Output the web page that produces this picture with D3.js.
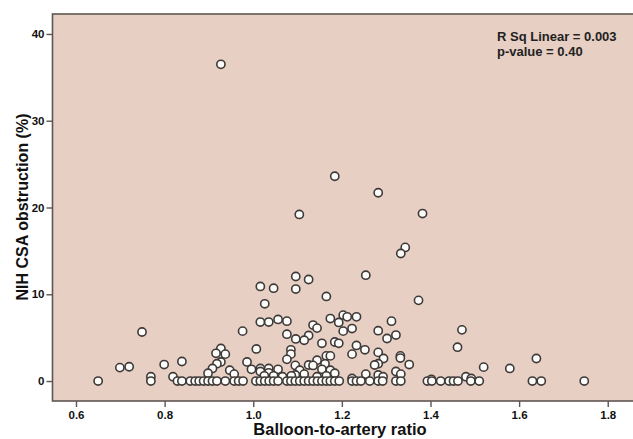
<!DOCTYPE html>
<html>
<head>
<meta charset="utf-8">
<script src="https://cdn.jsdelivr.net/npm/d3@7"></script>
<style>
  html, body { margin: 0; padding: 0; background: #ffffff; }
  svg { display: block; }
</style>
</head>
<body>
<svg id="chart" width="633" height="439"></svg>
<script>
// ---- data ----
const ratio = [
  0.927, 1.184, 1.282, 1.104, 1.382, 1.343, 1.333, 1.254, 1.096, 1.125,
  1.016, 1.046, 1.096, 1.165, 1.373, 1.026, 1.203, 1.212, 1.233, 1.174,
  1.056, 1.076, 1.016, 1.035, 1.312, 1.135, 1.144, 1.193, 1.223, 0.749,
  0.976, 1.282, 1.471, 1.203, 1.076, 1.125, 1.322, 1.096, 1.115, 1.302,
  1.184, 1.193, 1.155, 1.233, 1.461, 1.007, 0.927, 1.252, 1.085, 1.282,
  0.916, 0.937, 1.085, 1.223, 1.332, 1.165, 1.174, 1.639, 1.076, 1.332,
  1.294, 0.839, 1.144, 0.927, 0.986, 0.918, 1.162, 1.282, 1.274, 0.799,
  1.352, 1.095, 1.125, 1.135, 0.699, 0.720, 1.520, 1.579, 0.908, 1.016,
  1.035, 1.056, 0.947, 0.996, 1.105, 1.155, 1.174, 1.322, 1.016, 1.035,
  0.898, 0.957, 1.095, 1.115, 1.184, 1.254, 1.282, 1.333, 1.480, 0.819,
  0.769, 1.492, 1.086, 1.066, 1.046, 1.025, 1.144, 1.165, 1.223, 1.293,
  1.402,
  // zero obstruction
  0.650, 0.769, 0.829, 0.839, 0.858, 0.869, 0.878, 0.888, 0.898, 0.908,
  0.918, 0.937, 0.957, 0.967, 0.977, 1.006, 1.016, 1.026, 1.036, 1.046,
  1.056, 1.076, 1.085, 1.095, 1.105, 1.115, 1.125, 1.135, 1.145, 1.155,
  1.165, 1.174, 1.184, 1.194, 1.223, 1.233, 1.243, 1.263, 1.282, 1.292,
  1.322, 1.333, 1.393, 1.403, 1.423, 1.442, 1.452, 1.462, 1.491, 1.510,
  1.630, 1.650, 1.747
];
const obstruction = [
  36.5, 23.6, 21.7, 19.2, 19.3, 15.4, 14.7, 12.2, 12.05, 11.7,
  10.9, 10.7, 10.6, 9.75, 9.3, 8.9, 7.6, 7.4, 7.4, 7.2,
  7.1, 6.9, 6.8, 6.8, 6.9, 6.45, 6.1, 6.75, 6.05, 5.65,
  5.75, 5.8, 5.9, 5.75, 5.4, 5.25, 5.3, 4.85, 4.7, 4.9,
  4.5, 4.35, 4.35, 4.1, 3.9, 3.7, 3.75, 3.6, 3.6, 3.3,
  3.2, 3.1, 3.1, 3.1, 2.9, 2.9, 2.9, 2.6, 2.5, 2.65,
  2.6, 2.25, 2.4, 2.2, 2.2, 2.0, 2.0, 2.0, 1.85, 1.9,
  1.9, 1.8, 1.85, 1.8, 1.55, 1.65, 1.6, 1.45, 1.45, 1.45,
  1.45, 1.35, 1.25, 1.35, 1.25, 1.35, 1.25, 1.1, 1.1, 0.95,
  0.9, 0.8, 0.7, 0.8, 0.9, 0.8, 0.7, 0.8, 0.5, 0.5,
  0.5, 0.3, 0.6, 0.5, 0.6, 0.6, 0.5, 0.6, 0.3, 0.5,
  0.2,
  0, 0, 0, 0, 0, 0, 0, 0, 0, 0,
  0, 0, 0, 0, 0, 0, 0, 0, 0, 0,
  0, 0, 0, 0, 0, 0, 0, 0, 0, 0,
  0, 0, 0, 0, 0, 0, 0, 0, 0, 0,
  0, 0, 0, 0, 0, 0, 0, 0, 0, 0,
  0, 0, 0
];
const xTicks = [0.6, 0.8, 1.0, 1.2, 1.4, 1.6, 1.8];
const yTicks = [0, 10, 20, 30, 40];
const xTitle = "Balloon-to-artery ratio";
const yTitle = "NIH CSA obstruction (%)";
const annotation = ["R Sq Linear = 0.003", "p-value = 0.40"];

// ---- layout ----
const svg = d3.select("#chart");
const plot = { left: 52.5, right: 640, top: 14, bottom: 401 };
const x = d3.scaleLinear().domain([0.547, 1.857]).range([plot.left, 633]);
const y = d3.scaleLinear().domain([-2.3, 42.3]).range([plot.bottom, plot.top]);

svg.append("rect")
  .attr("x", plot.left).attr("y", plot.top)
  .attr("width", plot.right - plot.left).attr("height", plot.bottom - plot.top)
  .attr("fill", "#e8cfc4")
  .attr("stroke", "#5e5652").attr("stroke-width", 1.6);

const tickFont = "'Liberation Sans Narrow', 'Liberation Sans', Arial, sans-serif";

const yAxis = svg.append("g")
  .attr("transform", `translate(${plot.left},0)`)
  .call(d3.axisLeft(y).tickValues(yTicks).tickSize(6).tickPadding(2).tickFormat(d3.format("d")));
yAxis.select(".domain").remove();
yAxis.selectAll(".tick line").attr("stroke", "#5e5652").attr("stroke-width", 1.4);
yAxis.selectAll(".tick text")
  .attr("fill", "#111").style("font-family", tickFont)
  .style("font-weight", "bold").style("font-size", "11.5px");

const xAxis = svg.append("g")
  .attr("transform", `translate(0,${plot.bottom})`)
  .call(d3.axisBottom(x).tickValues(xTicks).tickSize(6).tickPadding(4).tickFormat(d3.format(".1f")));
xAxis.select(".domain").remove();
xAxis.selectAll(".tick line").attr("stroke", "#5e5652").attr("stroke-width", 1.4);
xAxis.selectAll(".tick text")
  .attr("fill", "#111").style("font-family", tickFont)
  .style("font-weight", "bold").style("font-size", "11.5px");

// points
const pts = ratio.map((r, i) => ({ r, o: obstruction[i] }));
svg.append("g").selectAll("circle")
  .data(pts).join("circle")
  .attr("cx", d => x(d.r))
  .attr("cy", d => y(d.o))
  .attr("r", 4.1)
  .attr("fill", "#fcfcfa")
  .attr("stroke", "#3e3a38")
  .attr("stroke-width", 1.6);

// annotation
svg.append("g").selectAll("text")
  .data(annotation).join("text")
  .attr("x", 497)
  .attr("y", (d, i) => 41 + i * 15)
  .attr("fill", "#222")
  .style("font-family", tickFont)
  .style("font-weight", "bold")
  .style("font-size", "13px")
  .text(d => d);

// axis titles
svg.append("text")
  .attr("x", 340).attr("y", 435)
  .attr("text-anchor", "middle")
  .attr("fill", "#111")
  .style("font-family", "'Liberation Sans', Arial, sans-serif")
  .style("font-weight", "bold").style("font-size", "16.5px")
  .text(xTitle);

svg.append("text")
  .attr("transform", "translate(28,207) rotate(-90)")
  .attr("text-anchor", "middle")
  .attr("fill", "#111")
  .style("font-family", "'Liberation Sans', Arial, sans-serif")
  .style("font-weight", "bold").style("font-size", "16px")
  .text(yTitle);
</script>
</body>
</html>
